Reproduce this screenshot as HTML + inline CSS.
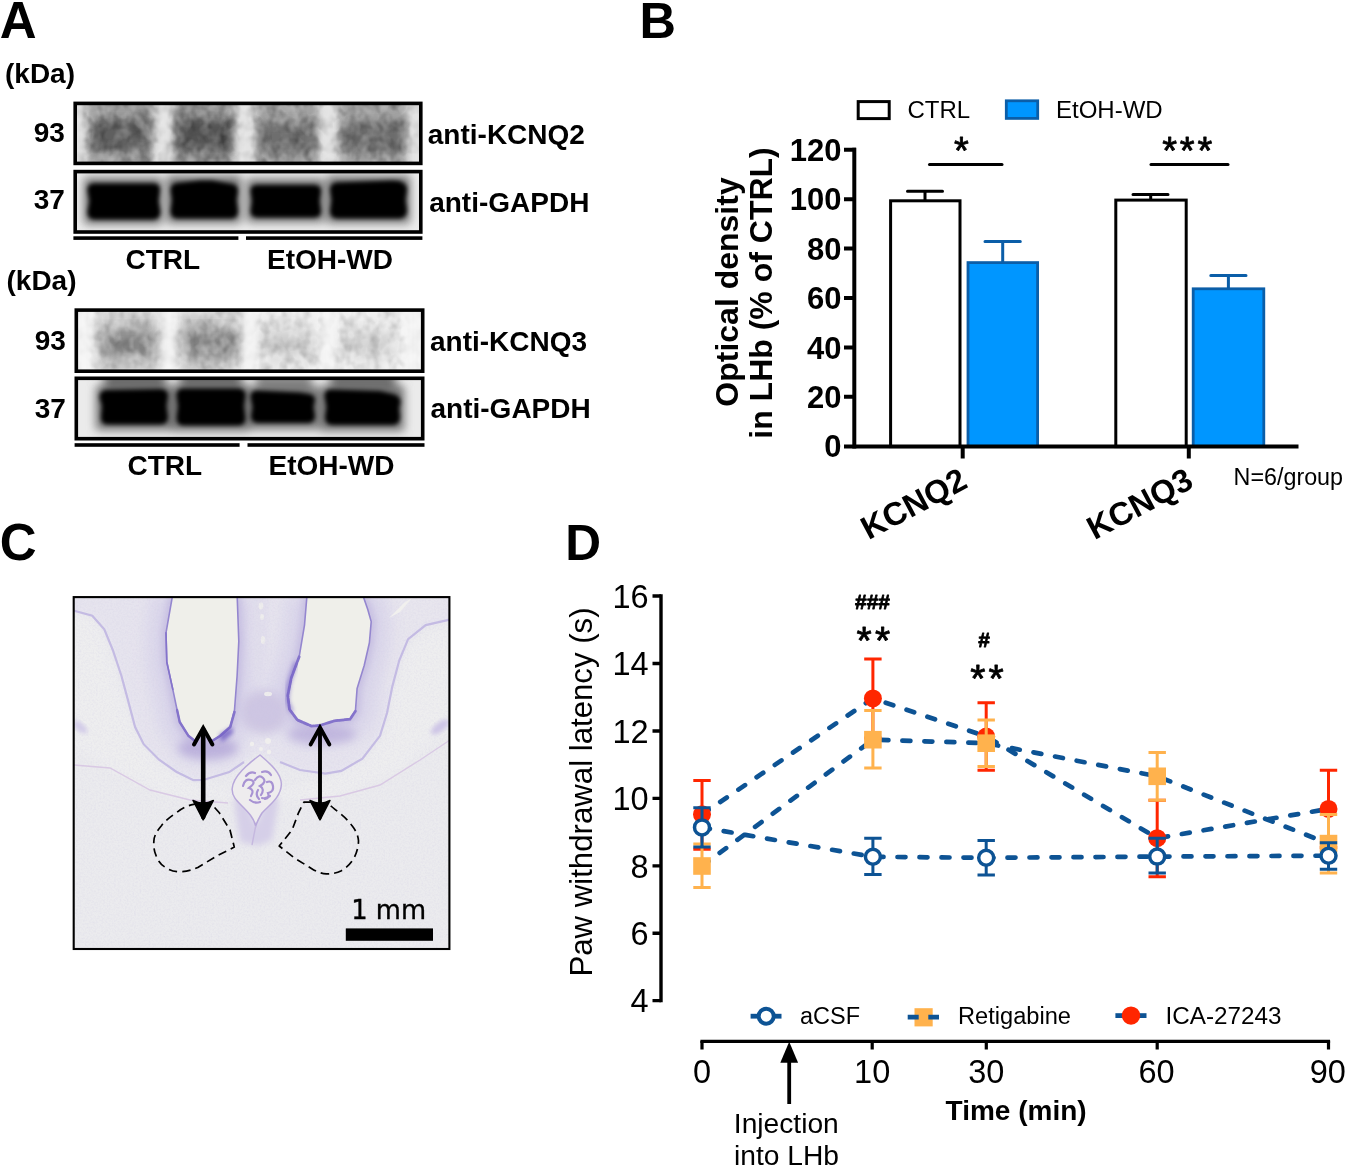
<!DOCTYPE html>
<html lang="en">
<head>
<meta charset="utf-8">
<title>Figure</title>
<style>
html,body{margin:0;padding:0;background:#fff;}
body{width:1346px;height:1167px;overflow:hidden;}
svg{display:block;}
text{font-family:"Liberation Sans",Arial,sans-serif;fill:#000;}
.b{font-weight:bold;}
.ast{stroke:#000;stroke-width:0.8px;stroke-linejoin:round;}
.panel{font-weight:bold;font-size:49px;}
.blab{font-weight:bold;font-size:28px;}
</style>
</head>
<body>
<svg width="1346" height="1167" viewBox="0 0 1346 1167">
<defs>
  <filter id="bl05" x="-10%" y="-10%" width="120%" height="120%"><feGaussianBlur stdDeviation="0.6"/></filter>
  <filter id="bl2" x="-20%" y="-20%" width="140%" height="140%"><feGaussianBlur stdDeviation="2"/></filter>
  <filter id="bl3" x="-20%" y="-30%" width="140%" height="160%"><feGaussianBlur stdDeviation="3"/></filter>
  <filter id="bl5" x="-30%" y="-40%" width="160%" height="180%"><feGaussianBlur stdDeviation="5"/></filter>
  <filter id="bl8" x="-30%" y="-40%" width="160%" height="180%"><feGaussianBlur stdDeviation="8"/></filter>
  <filter id="grain" x="0" y="0" width="100%" height="100%"><feTurbulence type="fractalNoise" baseFrequency="0.55" numOctaves="2" seed="7" result="n"/><feColorMatrix type="matrix" values="0 0 0 0 0.60  0 0 0 0 0.57  0 0 0 0 0.76  1.2 1.2 0 0 -1.05"/></filter>
  <filter id="grainK" x="0" y="0" width="100%" height="100%"><feTurbulence type="fractalNoise" baseFrequency="0.10 0.085" numOctaves="2" seed="3"/><feColorMatrix type="matrix" values="0 0 0 0 0  0 0 0 0 0  0 0 0 0 0  1.6 0 0 0 -0.62"/><feGaussianBlur stdDeviation="0.7"/></filter>
  <filter id="grainW" x="0" y="0" width="100%" height="100%"><feTurbulence type="fractalNoise" baseFrequency="0.10 0.085" numOctaves="2" seed="11"/><feColorMatrix type="matrix" values="0 0 0 0 1  0 0 0 0 1  0 0 0 0 1  0 1.6 0 0 -0.62"/><feGaussianBlur stdDeviation="0.7"/></filter>
  <clipPath id="cA1"><rect x="75" y="103" width="346" height="61"/></clipPath>
  <clipPath id="cA2"><rect x="75" y="171" width="346" height="61.500"/></clipPath>
  <clipPath id="cA3"><rect x="76" y="310" width="347" height="61.500"/></clipPath>
  <clipPath id="cA4"><rect x="76" y="378" width="347" height="61"/></clipPath>
  <clipPath id="cC"><rect x="73.5" y="597" width="376" height="352"/></clipPath>
</defs>
<rect x="0" y="0" width="1346" height="1167" fill="#fff"/>

<!-- ================= PANEL LETTERS ================= -->
<text class="panel" x="-0.3" y="37.5" style="font-size:51px">A</text>
<text class="panel" x="639.4" y="37.5" style="font-size:50.5px">B</text>
<text class="panel" x="-0.3" y="559.6" style="font-size:51px">C</text>
<text class="panel" x="565.3" y="559.7" style="font-size:49.6px">D</text>

<!-- ================= PANEL A ================= -->
<g id="panelA">
  <text class="blab" x="5" y="83" style="font-size:28px">(kDa)</text>
  <text class="blab" x="33.7" y="141.5">93</text>
  <text class="blab" x="33.7" y="209">37</text>
  <text class="blab" x="427.8" y="144">anti-KCNQ2</text>
  <text class="blab" x="429.2" y="211.5">anti-GAPDH</text>
  <text class="blab" x="125.5" y="268.5">CTRL</text>
  <text class="blab" x="267" y="268.5">EtOH-WD</text>

  <!-- blot 1: KCNQ2 -->
  <g clip-path="url(#cA1)">
    <rect x="73" y="100" width="352" height="70" fill="#dedede"/>
    <g filter="url(#bl3)">
      <rect x="88" y="92" width="65" height="84" fill="#9e9e9e"/>
      <rect x="174" y="92" width="60" height="84" fill="#989898"/>
      <rect x="256" y="92" width="62" height="84" fill="#a2a2a2"/>
      <rect x="339" y="92" width="68" height="84" fill="#a2a2a2"/>
    </g>
    <g filter="url(#bl5)">
      <rect x="92" y="120" width="56" height="30" fill="#5e5e5e"/>
      <rect x="177" y="119" width="55" height="32" fill="#525252"/>
      <rect x="260" y="123" width="54" height="30" fill="#6e6e6e"/>
      <rect x="343" y="123" width="60" height="30" fill="#6c6c6c"/>
    </g>
    <rect x="73" y="100" width="352" height="70" filter="url(#grainK)" opacity="0.4"/>
    <rect x="73" y="100" width="352" height="70" filter="url(#grainW)" opacity="0.3"/>
    <g filter="url(#bl3)" fill="#e6e6e6" opacity="0.75"><rect x="158" y="100" width="11" height="70"/><rect x="239" y="100" width="12" height="70"/><rect x="323" y="100" width="11" height="70"/><rect x="74" y="100" width="9" height="70"/><rect x="412" y="100" width="9" height="70"/></g>
  </g>
  <rect x="75.2" y="103.400" width="345.6" height="60" fill="none" stroke="#000" stroke-width="3.6"/>

  <!-- blot 2: GAPDH -->
  <g clip-path="url(#cA2)">
    <rect x="73" y="168" width="352" height="68" fill="#ececec"/>
    <g filter="url(#bl5)" fill="#6e6e6e">
      <rect x="84" y="178" width="78" height="46"/>
      <rect x="167" y="176" width="74" height="47"/>
      <rect x="247" y="179" width="77" height="43"/>
      <rect x="327" y="176" width="83" height="47"/>
    </g>
    <g filter="url(#bl2)" fill="#000">
      <path d="M94 183.500H154Q160 183.500 160 190L158.500 201L160.500 212Q160 219.500 153 219.500H95Q87.500 219.500 87.500 212L89.500 201L87.500 190Q87.500 183.500 94 183.500Z"/>
      <path d="M177 183L200 180.500L212 180.500L232 184Q238 185 238 191L236.500 200L238 211Q238 218.500 231 218.500H178Q170.500 218.500 170.500 211L172 200L170.500 190Q170.500 184 177 183Z"/>
      <path d="M257 185H314Q321 185 321 191L319.500 201L321 211Q321 217.500 314 217.500H258Q250.500 217.500 250.500 211L252 201L250.500 191Q250.500 185 257 185Z"/>
      <path d="M337 182.500L392 180.500Q407 180.500 407 190L405.500 200L407 210Q407 218.500 399 218.500H338Q330 218.500 330 211L331.500 200L330 190Q330 183 337 182.500Z"/>
    </g>
  </g>
  <rect x="75.2" y="171.600" width="345.6" height="60.400" fill="none" stroke="#000" stroke-width="3.6"/>
  <rect x="73.4" y="236.300" width="165" height="3.6" fill="#000"/>
  <rect x="246" y="236.300" width="176.4" height="3.6" fill="#000"/>

  <!-- second set -->
  <text class="blab" x="6.5" y="289.900" style="font-size:28px">(kDa)</text>
  <text class="blab" x="34.7" y="350">93</text>
  <text class="blab" x="34.7" y="417.5">37</text>
  <text class="blab" x="430" y="350.5">anti-KCNQ3</text>
  <text class="blab" x="430.500" y="418">anti-GAPDH</text>
  <text class="blab" x="127.5" y="475">CTRL</text>
  <text class="blab" x="268.5" y="475">EtOH-WD</text>

  <!-- blot 3: KCNQ3 -->
  <g clip-path="url(#cA3)">
    <rect x="73" y="304" width="354" height="74" fill="#f4f4f4"/>
    <g filter="url(#bl5)">
      <rect x="98" y="310" width="60" height="70" fill="#cecece"/>
      <rect x="180" y="310" width="60" height="70" fill="#cecece"/>
      <rect x="260" y="314" width="56" height="62" fill="#e9e9e9"/>
      <rect x="340" y="314" width="58" height="62" fill="#ebebeb"/>
    </g>
    <g filter="url(#bl8)">
      <rect x="100" y="331" width="56" height="26" fill="#7e7e7e"/>
      <rect x="182" y="330" width="56" height="26" fill="#7e7e7e"/>
      <rect x="262" y="333" width="52" height="22" fill="#c6c6c6"/>
      <rect x="342" y="333" width="52" height="22" fill="#cccccc"/>
    </g>
    <rect x="73" y="304" width="354" height="74" filter="url(#grainK)" opacity="0.22"/>
    <rect x="73" y="304" width="354" height="74" filter="url(#grainW)" opacity="0.5"/>
    <g filter="url(#bl3)" fill="#f6f6f6" opacity="0.8"><rect x="163" y="304" width="12" height="74"/><rect x="244" y="304" width="12" height="74"/><rect x="322" y="304" width="12" height="74"/><rect x="76" y="304" width="16" height="74"/><rect x="404" y="304" width="18" height="74"/></g>
  </g>
  <rect x="76.3" y="310.100" width="346.4" height="61.100" fill="none" stroke="#000" stroke-width="3.6"/>

  <!-- blot 4: GAPDH -->
  <g clip-path="url(#cA4)">
    <rect x="73" y="374" width="354" height="70" fill="#ebebeb"/>
    <g filter="url(#bl5)">
      <rect x="104" y="372" width="62" height="40" fill="#6c6c6c"/>
      <rect x="180" y="372" width="62" height="40" fill="#6c6c6c"/>
      <rect x="256" y="372" width="56" height="40" fill="#888"/>
      <rect x="330" y="372" width="66" height="40" fill="#707070"/>
    </g>
    <g filter="url(#bl5)" fill="#707070">
      <rect x="96" y="386" width="76" height="44"/>
      <rect x="172" y="385" width="77" height="46"/>
      <rect x="247" y="387" width="72" height="42"/>
      <rect x="320" y="386" width="84" height="45"/>
    </g>
    <g filter="url(#bl2)" fill="#000">
      <path d="M106 390L160 389Q168 389 168 396L166.500 406L168 417Q168 424.500 160 424.500H108Q100.500 424.500 101 417L102 406L99.500 397Q100 390.500 106 390Z"/>
      <path d="M183 388.500H238Q245.500 388.500 245.500 396L244 406L245.500 418Q245.500 425.500 238 425.500H184Q176.500 425.500 176.500 418L178 406L176.500 396Q176.500 388.500 183 388.500Z"/>
      <path d="M257 390.500L300 392.500L309 394Q315 395 315 400L313.500 407L315 416Q315 423 308 423H258Q251 423 251 416L252.500 407L250.500 397Q250.500 390.500 257 390.500Z"/>
      <path d="M331 389.500L380 391L393 394Q400.500 396 400.500 402L399 408L400 417Q400 425 392 425H333Q325 425 325 417L326.500 407L324.500 396Q324.500 389.500 331 389.500Z"/>
    </g>
  </g>
  <rect x="76.3" y="378.300" width="346.4" height="60.400" fill="none" stroke="#000" stroke-width="3.6"/>
  <rect x="74.6" y="443.200" width="165" height="3.6" fill="#000"/>
  <rect x="247.5" y="443.200" width="177" height="3.6" fill="#000"/>
</g>

<!-- ================= PANEL B ================= -->
<g id="panelB">
  <!-- legend -->
  <rect x="858.2" y="101.6" width="31" height="17" fill="#fff" stroke="#000" stroke-width="3"/>
  <text x="907.5" y="118.2" style="font-size:24px">CTRL</text>
  <rect x="1006.3" y="100.8" width="31.4" height="17.6" fill="#0096ff" stroke="#0b5ea8" stroke-width="2.8"/>
  <text x="1056" y="118.2" style="font-size:24px">EtOH-WD</text>

  <!-- error bars (behind bars) -->
  <g stroke="#000" stroke-width="3" fill="none" stroke-linecap="round">
    <path d="M925 200V191.3M907.5 191.3H942.5"/>
    <path d="M1150.7 199V194.4M1133 194.4H1168"/>
  </g>
  <g stroke="#0b5ea8" stroke-width="3" fill="none" stroke-linecap="round">
    <path d="M1002.7 262V241.4M985 241.4H1020.3"/>
    <path d="M1228.4 288V275.4M1210.8 275.4H1246"/>
  </g>
  <!-- bars -->
  <rect x="890.6" y="200.8" width="69.4" height="245.8" fill="#fff" stroke="#000" stroke-width="3"/>
  <rect x="968" y="262.6" width="69.6" height="184" fill="#0096ff" stroke="#0b5ea8" stroke-width="2.8"/>
  <rect x="1115.8" y="200.1" width="70.4" height="246.5" fill="#fff" stroke="#000" stroke-width="3"/>
  <rect x="1193.2" y="288.8" width="70.6" height="157.8" fill="#0096ff" stroke="#0b5ea8" stroke-width="2.8"/>

  <!-- axes -->
  <g stroke="#000" stroke-width="4" fill="none">
    <path d="M854.3 147.8V448.6"/>
    <path d="M844 446.6H1298.5"/>
    <path d="M844 149.8H856M844 199.2H856M844 248.6H856M844 298H856M844 347.4H856M844 396.8H856"/>
    <path d="M962.7 446V458.5M1188.8 446V458.5"/>
  </g>
  <g class="b" style="font-size:31px" text-anchor="end">
    <text class="b" x="841.5" y="161">120</text>
    <text class="b" x="841.5" y="210.4">100</text>
    <text class="b" x="841.5" y="259.8">80</text>
    <text class="b" x="841.5" y="309.2">60</text>
    <text class="b" x="841.5" y="358.6">40</text>
    <text class="b" x="841.5" y="408">20</text>
    <text class="b" x="841.5" y="457.4">0</text>
  </g>
  <!-- y label -->
  <text class="b" style="font-size:32px" text-anchor="middle" transform="translate(738 292) rotate(-90)">Optical density</text>
  <text class="b" style="font-size:32px" text-anchor="middle" transform="translate(772.3 293) rotate(-90)">in LHb (% of CTRL)</text>

  <!-- significance -->
  <rect x="928" y="163" width="75.5" height="3" rx="1.5" fill="#000"/>
  <rect x="1149.5" y="163" width="80" height="3" rx="1.5" fill="#000"/>
  <text class="ast" x="961.3" y="163.6" text-anchor="middle" style="font-size:38px">*</text>
  <text class="ast" x="1188.6" y="163.6" text-anchor="middle" style="font-size:38px;letter-spacing:2.8px">***</text>

  <!-- x labels -->
  <text class="b" style="font-size:32.6px" text-anchor="end" transform="translate(969.3 486.8) rotate(-28)">KCNQ2</text>
  <text class="b" style="font-size:32.6px" text-anchor="end" transform="translate(1195.3 486.8) rotate(-28)">KCNQ3</text>
  <text x="1233.6" y="485" style="font-size:23.3px">N=6/group</text>
</g>


<!-- ================= PANEL C ================= -->
<g id="panelC">
  <g clip-path="url(#cC)">
    <rect x="70" y="594" width="384" height="360" fill="#ebebee"/>
    <g opacity="0.72">
    <!-- lighter weakly-stained zone under the cortex band -->
    <path filter="url(#bl5)" fill="#efeff0" d="M70 612L92 618L106 640L120 690L136 735L160 765L195 785L235 790L255 840L275 790L325 780L365 762L385 735L395 690L410 645L450 622L455 720L400 770L330 800L290 800L262 812L232 800L180 800L120 775L70 745Z"/>
    <!-- stained tissue band -->
    <path fill="#e4e1ef" filter="url(#bl2)" d="M70 609.5L92.3 615.7L104.3 629.4L112.8 650L121.4 675.7L128.3 701.4L135.1 727.1L143.7 744.2L159.1 759.7L176.3 771.7L193.4 780.2L203.3 780L229.3 772.1L244 762L258 752L272 760L300 770L325.5 773.6L341.3 770.9L362.4 758.6L380 735.8L387 713L392.3 686.6L399.3 660.3L408.1 639.2L425.7 625.1L452 619V592H70Z"/>
    <!-- top-right paler cortex -->
    <path fill="#e6e3ef" filter="url(#bl3)" d="M385 592L452 592L452 618L426 624L408 638L398 660L391 690L384 690L380 650L384 620Z"/>
    <!-- darker halo around ventricles -->
    <g filter="url(#bl8)" fill="none" stroke="#d3cdea" stroke-width="40" stroke-linejoin="round">
      <path d="M172.8 596L166 632.8L166.8 662L172.8 689.4L177.1 710L179.7 722L188.3 735.7L196 741.7L215.7 740.8L230.2 727.1L234.5 710L237.1 675.7L238.8 641.4L237.1 596"/>
      <path d="M307.1 596L304.5 625.1L299.2 656.7L291.3 677.8L287.8 695.4L289.5 709.4L297.4 720L311.5 726.1L320.3 725.3L334.3 720.9L350.1 719.1L355.4 711.2L357.1 688.4L364.2 665.5L369.4 642.7L371.2 621.6L367.7 609.3L362.4 596"/>
    </g>
    <g filter="url(#bl3)" fill="none" stroke="#b9aede" stroke-width="9" stroke-linejoin="round">
      <path d="M172.8 596L166 632.8L166.8 662L172.8 689.4L177.1 710L179.7 722L188.3 735.7L196 741.7L215.7 740.8L230.2 727.1L234.5 710L237.1 675.7L238.8 641.4L237.1 596"/>
      <path d="M307.1 596L304.5 625.1L299.2 656.7L291.3 677.8L287.8 695.4L289.5 709.4L297.4 720L311.5 726.1L320.3 725.3L334.3 720.9L350.1 719.1L355.4 711.2L357.1 688.4L364.2 665.5L369.4 642.7L371.2 621.6L367.7 609.3L362.4 596"/>
    </g>
    <!-- central junction, more saturated -->
    <ellipse cx="264" cy="712" rx="24" ry="22" fill="#c3b8df" filter="url(#bl5)"/>
    <ellipse cx="208" cy="748" rx="30" ry="11" fill="#a99ad6" filter="url(#bl5)"/>
    <ellipse cx="322" cy="734" rx="34" ry="10" fill="#b0a2d9" filter="url(#bl5)"/>
    <!-- lighter central stripe with bubbles -->
    <path fill="#ddd8ec" filter="url(#bl3)" d="M251 594L268 594L266 640L262 682L254 682L251 640Z"/>
    <g fill="#efeeee"><ellipse cx="261" cy="606" rx="2.4" ry="3.6"/><ellipse cx="262" cy="617" rx="2" ry="3"/><ellipse cx="263" cy="640" rx="2.2" ry="4"/><ellipse cx="268" cy="694" rx="4" ry="2.2"/></g>
    </g>
    <rect x="73" y="596" width="378" height="354" filter="url(#grain)" opacity="0.28"/>
    <!-- ventricles -->
    <g fill="#efefea" stroke="#9486cf" stroke-width="1.6" stroke-linejoin="round">
      <path d="M172.8 594L166 632.8L166.8 662L172.8 689.4L177.1 710L179.7 722L188.3 735.7L196 741.7L203 730L212 741L220 736L230.2 727.1L234.5 710L237.1 675.7L238.8 641.4L237.1 594Z"/>
      <path d="M307.1 594L304.5 625.1L299.2 656.7L291.3 677.8L287.8 695.4L289.5 709.4L297.4 720L311.5 726.1L320.3 725.3L334.3 720.9L350.1 719.1L355.4 711.2L357.1 688.4L364.2 665.5L369.4 642.7L371.2 621.6L367.7 609.3L362.4 594Z"/>
    </g>
    <!-- stronger rims -->
    <g fill="none" stroke="#8473cb" stroke-linecap="round" stroke-linejoin="round" filter="url(#bl05)">
      <path d="M177.1 710L179.7 722L188.3 735.7L196 741.7" stroke-width="2.4"/>
      <path d="M212 741L220 736L230.2 727.1L234.500 712" stroke-width="2.6"/>
      <path d="M299.2 656.7L291.3 677.8L287.8 695.4L289.5 709.4L297.4 720L311.5 726.1L320.3 725.3L334.3 720.9L350.1 719.1L355.4 711.2" stroke-width="2.8" stroke-dasharray="5 1.2"/>
      <path d="M166 632.8L166.8 662L172.8 689.4" stroke-width="1.6"/>
    </g>
    <!-- dark spots at rims -->
    <path d="M219 735L232 727L233 733L222 742Z" fill="#6f5cc4" filter="url(#bl2)" opacity=".8"/>
    <path d="M296 662L289 684L287 700L292 712" fill="none" stroke="#7562c6" stroke-width="3" filter="url(#bl2)" opacity=".8"/>
    <!-- small white sliver top right -->
    <path d="M389 618L404 603L412 598L400 612Z" fill="#f1f0ee"/>
    <!-- outer contour lines -->
    <g fill="none" stroke="#c4bbe3" stroke-width="2.2" filter="url(#bl05)">
      <path d="M70 609.5L92.3 615.7L104.3 629.4L112.8 650L121.4 675.7L128.3 701.4L135.1 727.1L143.7 744.2L159.1 759.7L176.3 771.7L193.4 780.2L203.3 780L229.3 772.1L244 762"/>
      <path d="M452 619L425.7 625.1L408.1 639.2L399.3 660.3L392.3 686.6L387 713L380 735.8L362.4 758.6L341.3 770.9L325.5 773.6L300 770L280 762"/>
    </g>
    <!-- fimbria thin pinkish lines -->
    <g fill="none" stroke="#d9c9e4" stroke-width="1.4">
      <path d="M74 765L110 768L150 790L190 800L228 803"/>
      <path d="M450 740L420 760L380 785L340 796L300 800"/>
    </g>
    <ellipse cx="440" cy="727" rx="11" ry="4.5" transform="rotate(-38 440 727)" fill="#cdc5e6" filter="url(#bl2)"/>
    <ellipse cx="80" cy="727" rx="9" ry="4" transform="rotate(40 80 727)" fill="#d2cbe8" filter="url(#bl2)"/>
    <!-- medial habenula -->
    <path d="M234 800L244 790L256 826L268 790L279 800L272 840L258 846L240 842Z" fill="#d5cfe8" filter="url(#bl3)"/>
    <!-- choroid plexus -->
    <path d="M260 755C268 762 281 772 281.4 784C281 798 268 806 262 813C259 818 257 822 255.7 826C254 818 248 812 242 806C236 800 232 796 232.1 789C233 776 248 764 260 755Z" fill="#eeecee" stroke="#b8a8da" stroke-width="1.5"/>
    <g fill="none" stroke="#a893d3" stroke-width="2.2" stroke-linecap="round">
      <path d="M243 786q2 -8 8 -6t-2 8q6 2 2 8"/>
      <path d="M255 780q4 -6 8 -2t-3 8q5 3 1 9"/>
      <path d="M267 782q5 -2 6 4t-5 7q2 5 -3 6"/>
      <path d="M250 800q5 4 10 2"/>
      <path d="M246 776q4 -5 9 -3"/>
      <path d="M262 772q6 -2 9 3"/>
      <path d="M258 790q-3 5 1 9"/>
      <path d="M270 796q-4 3 -8 2"/>
    </g>
    <path d="M255.7 826L252 845" stroke="#c5b8df" stroke-width="1.4" fill="none"/>
    <g fill="#f0efee"><circle cx="252" cy="744" r="2.2"/><circle cx="268" cy="741" r="3"/><circle cx="261" cy="749" r="2"/><circle cx="269" cy="752" r="2.2"/></g>
    <!-- dashed LHb outlines -->
    <g fill="none" stroke="#000" stroke-width="1.7" stroke-dasharray="8.5 5" stroke-linejoin="round">
      <path d="M210.7 803.2C204 803 199 803.4 193.600 804.300C186 806 181 809 176.400 812.800C170 817 165 821 161.400 825.700C157 831 154 836 153.900 840.700C153.500 846 154 851 156.100 855.700C158 861 161 865 165.700 867.500C170 870.500 175 872 180.700 871.700C187 871.500 192 870 197.800 867.500L217.100 855.700L234.300 847.100L230 830L219.300 812.800Z"/>
      <path d="M311.4 802.1L303.900 802.100L298.500 812.800L292.100 830L279.200 846L294.200 857.800L311.400 868.500C316 871.500 321 873.500 326.400 873.900C332 874 337 873 341.400 870.700C347 867.500 351 863 354.200 857.800C357 852 358.500 846 358.500 840.700C358 835 355.500 830 352.100 825.700C348 820.500 344 816.500 339.200 812.800C335 809.500 332 806.500 328.500 804.300"/>
    </g>
    <!-- arrows -->
    <g fill="none" stroke="#000" stroke-linecap="round" stroke-linejoin="miter">
      <path d="M203.2 729.5V817" stroke-width="4.6"/>
      <path d="M194 744.5L203.2 728L212.4 744.5" stroke-width="4"/>
      <path d="M320 728.5V817" stroke-width="3.9"/>
      <path d="M310.6 744.5L320 727.5L329.400 744.5" stroke-width="3.8"/>
    </g>
    <path d="M203.2 819.8L193 800.500Q203.2 806 213.4 800.500Z" fill="#000" stroke="#000" stroke-width="1.5" stroke-linejoin="round"/>
    <path d="M320 819.8L310 800.500Q320 806 330 800.500Z" fill="#000" stroke="#000" stroke-width="1.5" stroke-linejoin="round"/>
    <!-- scale bar -->
    <rect x="345.8" y="928.4" width="87.2" height="12.4" fill="#000"/>
    <text x="388.700" y="919.1" text-anchor="middle" style="font-family:'DejaVu Sans','Liberation Sans',sans-serif;font-size:25.8px;stroke:#000;stroke-width:0.35px">1 mm</text>
  </g>
  <rect x="73.700" y="597.100" width="375.700" height="351.900" fill="none" stroke="#000" stroke-width="2.1"/>
</g>


<!-- ================= PANEL D ================= -->
<g id="panelD">
  <!-- y axis -->
  <g stroke="#000" stroke-width="3.4" fill="none">
    <path d="M661 594.3V1002.3"/>
    <path d="M652.5 596H661M652.5 663.5H661M652.5 731H661M652.5 798.4H661M652.5 865.9H661M652.5 933.3H661M652.5 1000.6H661"/>
  </g>
  <g style="font-size:32.5px" text-anchor="end">
    <text x="648.6" y="607.6">16</text>
    <text x="648.6" y="675.1">14</text>
    <text x="648.6" y="742.6">12</text>
    <text x="648.6" y="810.0">10</text>
    <text x="648.6" y="877.5">8</text>
    <text x="648.6" y="944.9">6</text>
    <text x="648.6" y="1012.2">4</text>
  </g>
  <text style="font-size:31.2px" text-anchor="middle" transform="translate(592.2 792) rotate(-90)">Paw withdrawal latency (s)</text>

  <!-- dashed lines -->
  <g stroke="#0d5394" stroke-width="4.7" fill="none" stroke-dasharray="8 14" stroke-linecap="round">
    <path d="M702 814.3L872.9 698.4L986.2 736.5L1157.2 838.2L1328.5 808.9"/>
    <path d="M702 866L872.9 739.7L986.2 743.2L1157.2 776.3L1328.5 843.6"/>
    <path d="M702 827.4L872.9 856.8L986.2 857.8L1157.2 856.6L1328.5 855.7"/>
  </g>

  <!-- red series (ICA-27243) -->
  <g stroke="#ff2600" stroke-width="3" fill="none">
    <path d="M702 780.4V849.3M693.3 780.4H710.7M693.3 849.3H710.7"/>
    <path d="M872.9 658.9V737.9M864.2 658.9H881.6M864.2 737.9H881.6"/>
    <path d="M986.2 702.7V770.3M977.5 702.7H994.9M977.5 770.3H994.9"/>
    <path d="M1157.2 800.2V876.8M1148.5 800.2H1165.9M1148.5 876.8H1165.9"/>
    <path d="M1328.5 770.3V847.5M1319.8 770.3H1337.2M1319.8 847.5H1337.2"/>
  </g>
  <g fill="#ff2600">
    <circle cx="702" cy="814.3" r="9"/>
    <circle cx="872.9" cy="698.4" r="9"/>
    <circle cx="986.2" cy="736.5" r="9"/>
    <circle cx="1157.2" cy="838.2" r="9"/>
    <circle cx="1328.5" cy="808.9" r="9"/>
  </g>
  <!-- orange series (Retigabine) -->
  <g stroke="#ffb24d" stroke-width="3" fill="none">
    <path d="M702 844V887.4M693.3 844H710.7M693.3 887.4H710.7"/>
    <path d="M872.9 710.6V767.9M864.2 710.6H881.6M864.2 767.9H881.6"/>
    <path d="M986.2 719.9V766.4M977.5 719.9H994.9M977.5 766.4H994.9"/>
    <path d="M1157.2 752.5V800.2M1148.5 752.5H1165.9M1148.5 800.2H1165.9"/>
    <path d="M1328.5 814.4V872.9M1319.8 814.4H1337.2M1319.8 872.9H1337.2"/>
  </g>
  <g fill="#ffb24d">
    <rect x="693.2" y="857.2" width="17.6" height="17.6"/>
    <rect x="864.1" y="730.9" width="17.6" height="17.6"/>
    <rect x="977.4" y="734.4" width="17.6" height="17.6"/>
    <rect x="1148.4" y="767.5" width="17.6" height="17.6"/>
    <rect x="1319.7" y="834.8" width="17.6" height="17.6"/>
  </g>
  <!-- blue series (aCSF) -->
  <g stroke="#0d5394" stroke-width="3" fill="none">
    <path d="M702 807.7V847M693.3 807.7H710.7M693.3 847H710.7"/>
    <path d="M872.9 838.3V874.6M864.2 838.3H881.6M864.2 874.6H881.6"/>
    <path d="M986.2 840.6V875M977.5 840.6H994.9M977.5 875H994.9"/>
    <path d="M1157.2 838.2V872.9M1148.5 838.2H1165.9M1148.5 872.9H1165.9"/>
    <path d="M1328.5 842.7V869.3M1319.8 842.7H1337.2M1319.8 869.3H1337.2"/>
  </g>
  <g fill="#fff" stroke="#0d5394" stroke-width="3.5">
    <circle cx="702" cy="827.4" r="7.5"/>
    <circle cx="872.9" cy="856.8" r="7.5"/>
    <circle cx="986.2" cy="857.8" r="7.5"/>
    <circle cx="1157.2" cy="856.6" r="7.5"/>
    <circle cx="1328.5" cy="855.7" r="7.5"/>
  </g>

  <!-- annotations -->
  <text class="b ast" x="872.5" y="608.6" text-anchor="middle" style="font-size:21px">###</text>
  <text class="ast" x="874.9" y="653.6" text-anchor="middle" style="font-size:39px;letter-spacing:3.1px">**</text>
  <text class="b ast" x="984" y="647.4" text-anchor="middle" style="font-size:21px">#</text>
  <text class="ast" x="988.5" y="692" text-anchor="middle" style="font-size:39px;letter-spacing:3.1px">**</text>

  <!-- legend -->
  <path d="M750.6 1016.2H781.5" stroke="#0d5394" stroke-width="4.8"/>
  <circle cx="766.2" cy="1016.2" r="7.5" fill="#fff" stroke="#0d5394" stroke-width="4"/>
  <text x="800" y="1023.8" style="font-size:23px" textLength="60" lengthAdjust="spacingAndGlyphs">aCSF</text>
  <rect x="914.5" y="1008.2" width="18.2" height="18.2" fill="#ffb24d"/>
  <path d="M907.7 1017.2H918.7M928.3 1017.2H939" stroke="#0d5394" stroke-width="4.8"/>
  <text x="958" y="1024" style="font-size:23px" textLength="113" lengthAdjust="spacingAndGlyphs">Retigabine</text>
  <path d="M1115.4 1015.6H1146.5" stroke="#0d5394" stroke-width="4.8"/>
  <circle cx="1131" cy="1015.6" r="9.2" fill="#ff2600"/>
  <text x="1165.5" y="1024" style="font-size:23px" textLength="116" lengthAdjust="spacingAndGlyphs">ICA-27243</text>

  <!-- x axis -->
  <g stroke="#000" stroke-width="3.2" fill="none">
    <path d="M700.4 1041.4H1330.1"/>
    <path d="M702 1041V1049.5M872.2 1041V1049.5M986.3 1041V1049.5M1157.2 1041V1049.5M1328.5 1041V1049.5"/>
  </g>
  <g style="font-size:32.5px" text-anchor="middle">
    <text x="702" y="1083.2">0</text>
    <text x="872.2" y="1083.2">10</text>
    <text x="986.3" y="1083.2">30</text>
    <text x="1156.6" y="1083.2">60</text>
    <text x="1327.8" y="1083.2">90</text>
  </g>
  <text class="b" x="945.6" y="1119.6" style="font-size:28px">Time (min)</text>
  <!-- injection arrow -->
  <path d="M789.2 1104V1060" stroke="#000" stroke-width="3.8" fill="none"/>
  <path d="M789.2 1041.8L798.1 1062.8H780.3Z" fill="#000"/>
  <text x="786.3" y="1133.2" text-anchor="middle" style="font-size:28.2px">Injection</text>
  <text x="786.5" y="1165" text-anchor="middle" style="font-size:28.2px">into LHb</text>
</g>


</svg>
</body>
</html>
